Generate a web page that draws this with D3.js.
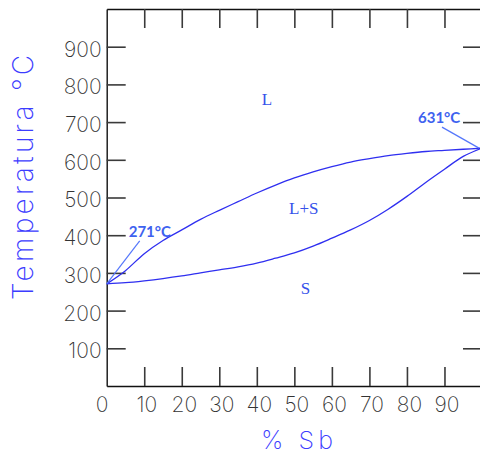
<!DOCTYPE html>
<html>
<head>
<meta charset="utf-8">
<script src="https://cdn.jsdelivr.net/npm/d3@7"></script>
<style>
  html, body { margin: 0; padding: 0; background: #fff; }
  svg { display: block; }
</style>
</head>
<body>
<svg id="chart" width="480" height="457"></svg>
<script>
// Sb–Pb style phase diagram: % Sb vs temperature (°C)
const sbPercent = [0, 5, 10, 15, 20, 25, 30, 35, 40, 45, 50, 55, 60, 65, 70, 75, 80, 85, 90, 95, 100];
const liquidusT = [271, 306, 351, 386, 414, 442, 466, 489, 512, 533, 552, 568, 582, 594, 603, 611, 617, 622, 625, 628, 631];
const solidusT  = [271, 274, 279, 285, 292, 300, 308, 316, 326, 339, 353, 371, 392, 414, 439, 469, 503, 540, 575, 609, 631];

const xTicks = [0, 10, 20, 30, 40, 50, 60, 70, 80, 90];
const yTicks = [100, 200, 300, 400, 500, 600, 700, 800, 900];

const regionLabels = ["L", "L+S", "S"];
const regionSb = [42.7, 52.5, 53];
const regionT  = [745, 455, 245];

const meltLabels = ["271°C", "631°C"];
const meltSb = [0, 100];
const meltT = [271, 631];

const svg = d3.select("#chart");

const x = d3.scaleLinear().domain([0, 100]).range([106.7, 482]);
const y = d3.scaleLinear().domain([0, 1000]).range([386, 9]);

const thinFont = "Inter, 'DejaVu Sans', sans-serif";

function styleAxis(g) {
  g.select(".domain").attr("stroke", "#111").attr("stroke-width", 1.4);
  g.selectAll(".tick line").attr("stroke", "#3a3a3a").attr("stroke-width", 1.6);
  g.selectAll(".tick text")
    .attr("fill", "#333")
    .style("font-family", thinFont)
    .style("font-weight", "200")
    .style("font-size", "21px");
}

// Bottom axis with inward ticks
const gx = svg.append("g")
  .attr("transform", `translate(0,${y(0)})`)
  .call(d3.axisBottom(x).tickValues(xTicks).tickSize(-19).tickSizeOuter(0).tickPadding(11))
  .call(styleAxis);
gx.selectAll(".tick text").attr("dx", d => d === 0 ? -5 : 2);
gx.selectAll(".tick").filter(d => d === 0).select("line").remove();

// Top frame with ticks
svg.append("g")
  .attr("transform", `translate(0,${y(1000)})`)
  .call(d3.axisTop(x).tickValues(xTicks.filter(d => d > 0)).tickSize(-19).tickSizeOuter(0).tickFormat(""))
  .call(styleAxis);

// Left axis
const gy = svg.append("g")
  .attr("transform", `translate(${x(0)},0)`)
  .call(d3.axisLeft(y).tickValues(yTicks).tickSize(-19).tickSizeOuter(0).tickPadding(5))
  .call(styleAxis);
gy.selectAll(".tick text").attr("dy", "0.45em");

// Right frame with ticks
svg.append("g")
  .attr("transform", `translate(${x(100)},0)`)
  .call(d3.axisRight(y).tickValues(yTicks).tickSize(-19).tickSizeOuter(0).tickFormat(""))
  .call(styleAxis);

// Axis titles
svg.append("text")
  .attr("transform", `translate(33,300) rotate(-90)`)
  .attr("text-anchor", "start")
  .attr("fill", "#3c3cff")
  .attr("textLength", 245)
  .attr("lengthAdjust", "spacing")
  .style("font-family", thinFont)
  .style("font-weight", "200")
  .style("font-size", "28px")
  .text("Temperatura °C");

svg.append("text")
  .attr("x", 261)
  .attr("y", 449)
  .attr("text-anchor", "start")
  .attr("fill", "#3c3cff")
  .attr("textLength", 72)
  .attr("lengthAdjust", "spacing")
  .style("font-family", thinFont)
  .style("font-weight", "200")
  .style("font-size", "25px")
  .text("% Sb");

// Liquidus and solidus curves
const line = d3.line()
  .x(d => x(d[0]))
  .y(d => y(d[1]))
  .curve(d3.curveCatmullRom);

svg.append("path")
  .datum(sbPercent.map((s, i) => [s, liquidusT[i]]))
  .attr("d", line)
  .attr("fill", "none")
  .attr("stroke", "#2f2ff0")
  .attr("stroke-width", 1.3);

svg.append("path")
  .datum(sbPercent.map((s, i) => [s, solidusT[i]]))
  .attr("d", line)
  .attr("fill", "none")
  .attr("stroke", "#2f2ff0")
  .attr("stroke-width", 1.3);

// Region labels
svg.selectAll("text.region")
  .data(regionLabels)
  .join("text")
  .attr("class", "region")
  .attr("x", (d, i) => x(regionSb[i]))
  .attr("y", (d, i) => y(regionT[i]))
  .attr("text-anchor", "middle")
  .attr("fill", "#3552ea")
  .style("font-family", "'Liberation Serif', 'DejaVu Serif', serif")
  .style("font-size", "17px")
  .text(d => d);

// Melting point callouts
const calloutDx = [33, -37];
const calloutDy = [-43, -21];
const textDx = [-11, -24];
const textDy = [-4, -4];
meltLabels.forEach((lab, i) => {
  const px = x(meltSb[i]) - (i === 1 ? 3 : 0);
  const py = y(meltT[i]);
  svg.append("line")
    .attr("x1", px).attr("y1", py)
    .attr("x2", px + calloutDx[i]).attr("y2", py + calloutDy[i])
    .attr("stroke", "#5577fb")
    .attr("stroke-width", 1.2);
  svg.append("text")
    .attr("x", px + calloutDx[i] + textDx[i])
    .attr("y", py + calloutDy[i] + textDy[i])
    .attr("fill", "#3e62ef")
    .style("font-family", "Lato, 'Open Sans', sans-serif")
    .style("font-weight", "bold")
    .style("font-size", "15px")
    .text(lab);
});
</script>
</body>
</html>
